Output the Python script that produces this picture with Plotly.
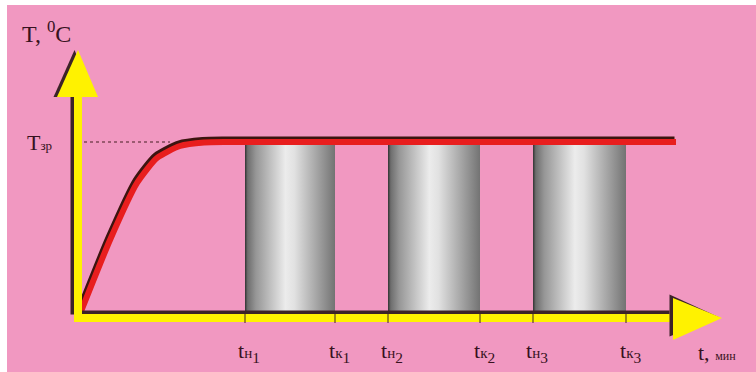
import plotly.graph_objects as go

# ---- data (schematic units) ----
heat_t = [0.2, 3.2, 5.9, 7.9, 10.2, 12.6, 15.0, 59.8]
heat_T = [0.4, 7.8, 13.5, 16.0, 17.2, 17.55, 17.6, 17.6]
T_zr = 17.6
t_start = [16.7, 31.0, 45.5]
t_end = [25.7, 40.2, 54.8]
start_labels = ["t<span style='font-size:15px'>н</span><sub>1</sub>",
                "t<span style='font-size:15px'>н</span><sub>2</sub>",
                "t<span style='font-size:15px'>н</span><sub>3</sub>"]
end_labels = ["t<span style='font-size:15px'>к</span><sub>1</sub>",
              "t<span style='font-size:15px'>к</span><sub>2</sub>",
              "t<span style='font-size:15px'>к</span><sub>3</sub>"]

# ---- styling / geometry ----
PINK = "rgb(241,152,193)"
YELLOW = "rgb(255,242,0)"
RED = "rgb(232,30,30)"
DARK = "rgb(70,30,35)"
TXT = "rgb(55,18,32)"
FONT = "Liberation Serif"
x_axis_end, y_axis_end = 59.5, 22.1
x_tip, y_tip = 64.4, 26.8

fig = go.Figure()

# dotted reference line for Tзр
fig.add_trace(go.Scatter(x=[0, 9.2], y=[T_zr, T_zr], mode="lines",
                         line=dict(color=DARK, width=1.2, dash="dot"), hoverinfo="skip"))

# cylinders (gradient-filled bars)
for a, b in zip(t_start, t_end):
    fig.add_trace(go.Scatter(
        x=[a, b, b, a, a], y=[0, 0, T_zr, T_zr, 0], mode="lines", fill="toself",
        line=dict(width=0), hoverinfo="skip",
        fillgradient=dict(type="horizontal", colorscale=[
            [0.0, "rgb(50,50,50)"], [0.03, "rgb(110,110,110)"], [0.12, "rgb(150,150,150)"],
            [0.45, "rgb(236,236,236)"], [0.55, "rgb(225,225,225)"],
            [0.9, "rgb(140,140,140)"], [1.0, "rgb(115,115,115)"]])))

# heating curve shadow and curve
fig.add_trace(go.Scatter(x=[v - 0.15 for v in heat_t], y=[v + 0.25 for v in heat_T],
                         mode="lines", line=dict(color="rgb(60,20,15)", width=6, shape="spline", smoothing=0.6),
                         hoverinfo="skip"))
fig.add_trace(go.Scatter(x=heat_t, y=heat_T, mode="lines",
                         line=dict(color=RED, width=6, shape="spline", smoothing=0.6),
                         hoverinfo="skip"))

# axes: shadow then yellow
sh = 0.35
fig.add_trace(go.Scatter(x=[-sh, -sh, None, -sh, x_axis_end - sh], y=[sh, y_axis_end, None, sh, sh],
                         mode="lines", line=dict(color="rgb(60,35,40)", width=8), hoverinfo="skip"))
fig.add_trace(go.Scatter(x=[0, 0, None, -0.4, x_axis_end + 0.5], y=[-0.4, y_axis_end + 0.5, None, 0, 0],
                         mode="lines", line=dict(color=YELLOW, width=8), hoverinfo="skip"))

# arrowheads (shadow + yellow)
for dx, col in [(-0.35, "rgb(60,35,40)"), (0, YELLOW)]:
    fig.add_trace(go.Scatter(x=[-2.1 + dx, 0 + dx, 2.0 + dx, -2.1 + dx], y=[y_axis_end, y_tip, y_axis_end, y_axis_end],
                             mode="lines", fill="toself", fillcolor=col, line=dict(width=0), hoverinfo="skip"))
    fig.add_trace(go.Scatter(x=[x_axis_end + dx, x_tip + dx, x_axis_end + dx, x_axis_end + dx],
                             y=[2.0 - dx, 0 - dx * 0.3, -2.2 - dx, 2.0 - dx],
                             mode="lines", fill="toself", fillcolor=col, line=dict(width=0), hoverinfo="skip"))

# tick marks at start/end times
tx, ty = [], []
for v in t_start + t_end:
    tx += [v, v, None]
    ty += [0.5, -0.5, None]
fig.add_trace(go.Scatter(x=tx, y=ty, mode="lines", line=dict(color="rgb(60,35,40)", width=1), hoverinfo="skip"))

# labels
ann = []
for v, lab in zip(t_start + t_end, start_labels + end_labels):
    ann.append(dict(x=v + 0.4, y=-3.4, text=lab, showarrow=False, xanchor="center", yanchor="middle",
                    font=dict(family=FONT, size=22, color=TXT)))
ann.append(dict(x=61.8, y=-3.4, text="t, <span style='font-size:12px'>мин</span>", showarrow=False,
                xanchor="left", yanchor="middle", font=dict(family=FONT, size=22, color=TXT)))
ann.append(dict(x=-5.8, y=28.6, text="T, <sup>0</sup>C", showarrow=False, xanchor="left", yanchor="middle",
                font=dict(family=FONT, size=24, color=TXT)))
ann.append(dict(x=-5.3, y=T_zr, text="T<span style='font-size:13px'>зр</span>", showarrow=False,
                xanchor="left", yanchor="middle", font=dict(family=FONT, size=22, color=TXT)))

fig.update_layout(
    width=756, height=372, margin=dict(l=7, r=0, t=5, b=0),
    paper_bgcolor="white", plot_bgcolor=PINK, showlegend=False,
    xaxis=dict(range=[-7.1, 67.8], visible=False, fixedrange=True),
    yaxis=dict(range=[-5.4, 31.3], visible=False, fixedrange=True),
    annotations=ann,
)

fig.write_html("out.html", config={"displayModeBar": False},
               post_script="document.body.style.margin='0';document.body.style.overflow='hidden';")
